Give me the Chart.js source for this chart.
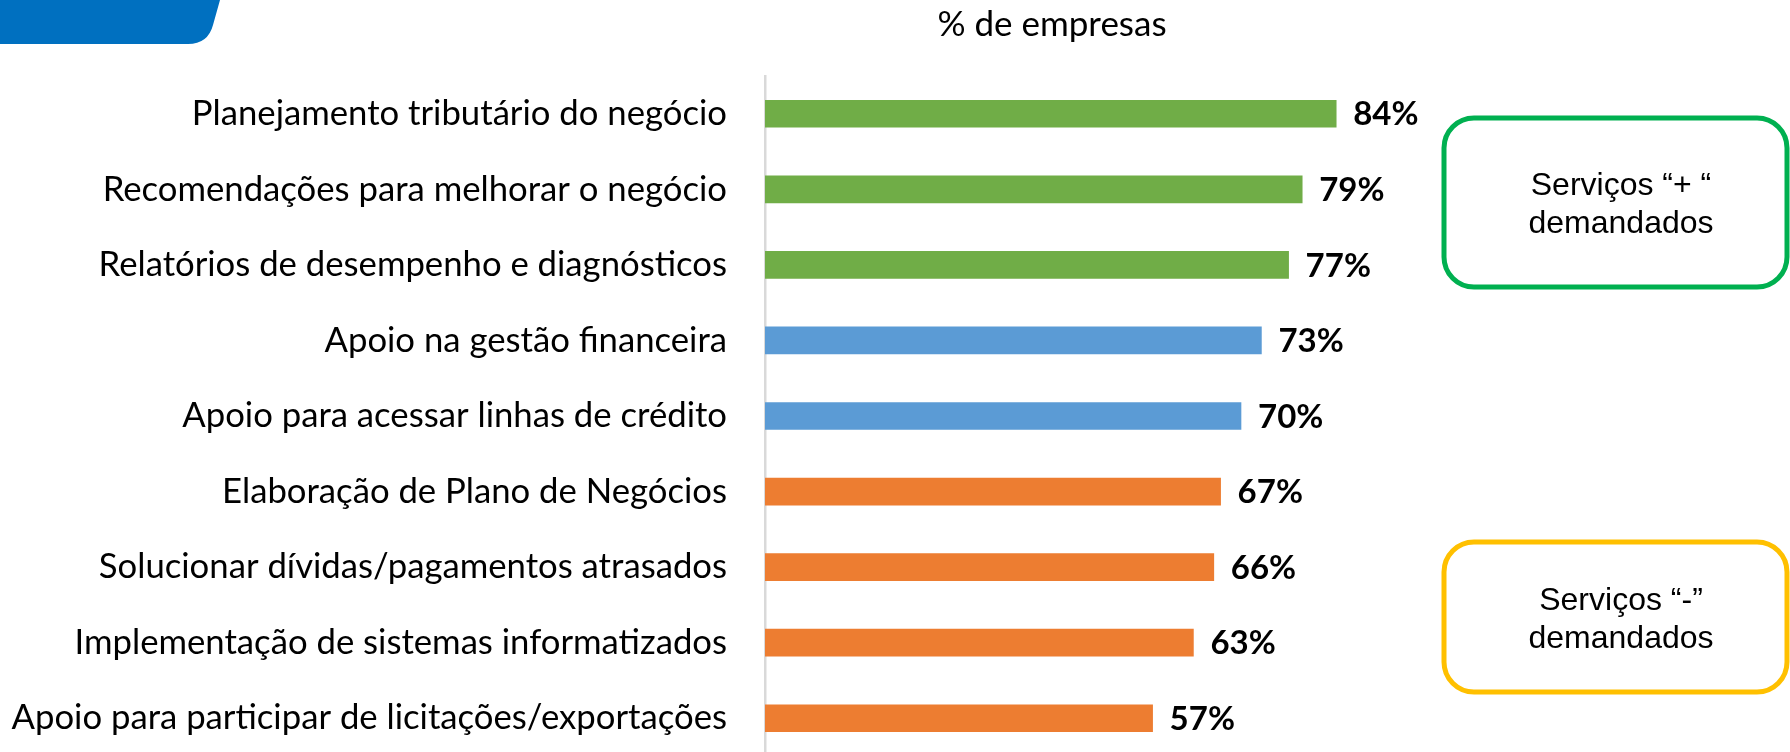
<!DOCTYPE html>
<html>
<head>
<meta charset="utf-8">
<script src="https://cdn.jsdelivr.net/npm/chart.js@4.4.1/dist/chart.umd.min.js"></script>
<style>
  html, body { margin: 0; padding: 0; background: #fff; overflow: hidden; }
  #wrap { position: relative; width: 1790px; height: 760px; }
</style>
</head>
<body>
<div id="wrap"><canvas id="c"></canvas></div>
<script>
const categories = [
  "Planejamento tributário do negócio",
  "Recomendações para melhorar o negócio",
  "Relatórios de desempenho e diagnósticos",
  "Apoio na gestão financeira",
  "Apoio para acessar linhas de crédito",
  "Elaboração de Plano de Negócios",
  "Solucionar dívidas/pagamentos atrasados",
  "Implementação de sistemas informatizados",
  "Apoio para participar de licitações/exportações"
];
const values = [84, 79, 77, 73, 70, 67, 66, 63, 57];
const barColors = ["#70AD47", "#70AD47", "#70AD47", "#5B9BD5", "#5B9BD5", "#ED7D31", "#ED7D31", "#ED7D31", "#ED7D31"];
const chartTitle = "% de empresas";
const boxTexts = [["Serviços \u201c+ \u201c", "demandados"], ["Serviços \u201c-\u201d", "demandados"]];

const decor = {
  id: 'decor',
  beforeDraw(chart) {
    const ctx = chart.ctx;
    ctx.save();
    ctx.fillStyle = '#0070C0';
    ctx.beginPath();
    ctx.moveTo(0, 0);
    ctx.lineTo(220, 0);
    ctx.lineTo(213, 25);
    ctx.quadraticCurveTo(208, 44, 188, 44);
    ctx.lineTo(0, 44);
    ctx.closePath();
    ctx.fill();
    ctx.restore();
  },
  afterDatasetsDraw(chart) {
    const ctx = chart.ctx;
    const meta = chart.getDatasetMeta(0);
    ctx.save();
    ctx.fillStyle = '#000';
    ctx.font = 'bold 33px Lato';
    ctx.textAlign = 'left';
    ctx.textBaseline = 'middle';
    meta.data.forEach((bar, i) => {
      ctx.fillText(values[i] + '%', bar.x + 17, bar.y + 1);
    });
    ctx.restore();
  },
  afterDraw(chart) {
    const ctx = chart.ctx;
    ctx.save();
    ctx.fillStyle = '#000';
    ctx.font = '35px Lato';
    ctx.textAlign = 'center';
    ctx.textBaseline = 'alphabetic';
    ctx.fillText(chartTitle, 1052, 36);
    const boxes = [
      { color: '#00B050', y0: 118, y1: 287, base: [195, 233] },
      { color: '#FFC000', y0: 542, y1: 692, base: [610, 648] }
    ];
    boxes.forEach((b, i) => {
      ctx.strokeStyle = b.color;
      ctx.lineWidth = 5;
      ctx.beginPath();
      ctx.roundRect(1444, b.y0, 1787 - 1444, b.y1 - b.y0, 30);
      ctx.stroke();
      ctx.fillStyle = '#000';
      ctx.font = '32px "Liberation Sans", Arial, sans-serif';
      ctx.textAlign = 'center';
      ctx.fillText(boxTexts[i][0], 1621, b.base[0]);
      ctx.fillText(boxTexts[i][1], 1621, b.base[1]);
    });
    ctx.restore();
  }
};

new Chart(document.getElementById('c'), {
  type: 'bar',
  data: {
    labels: categories,
    datasets: [{ data: values, backgroundColor: barColors, borderWidth: 0, barThickness: 27 }]
  },
  options: {
    indexAxis: 'y',
    responsive: true,
    maintainAspectRatio: false,
    animation: false,
    devicePixelRatio: 1,
    layout: { padding: { top: 76, right: 345, bottom: 4, left: 0 } },
    plugins: { legend: { display: false }, tooltip: { enabled: false }, title: { display: false } },
    scales: {
      x: { min: 0, max: 100, display: false },
      y: {
        grid: { display: false, drawTicks: false },
        border: { display: true, color: '#D9D9D9', width: 2.5 },
        ticks: { color: '#000', font: { family: 'Lato', size: 34.7 }, padding: 38, autoSkip: false },
        afterFit(scale) { scale.width = 765; scale.paddingTop = 0; scale.paddingBottom = 0; }
      }
    }
  },
  plugins: [decor]
});
</script>
</body>
</html>
